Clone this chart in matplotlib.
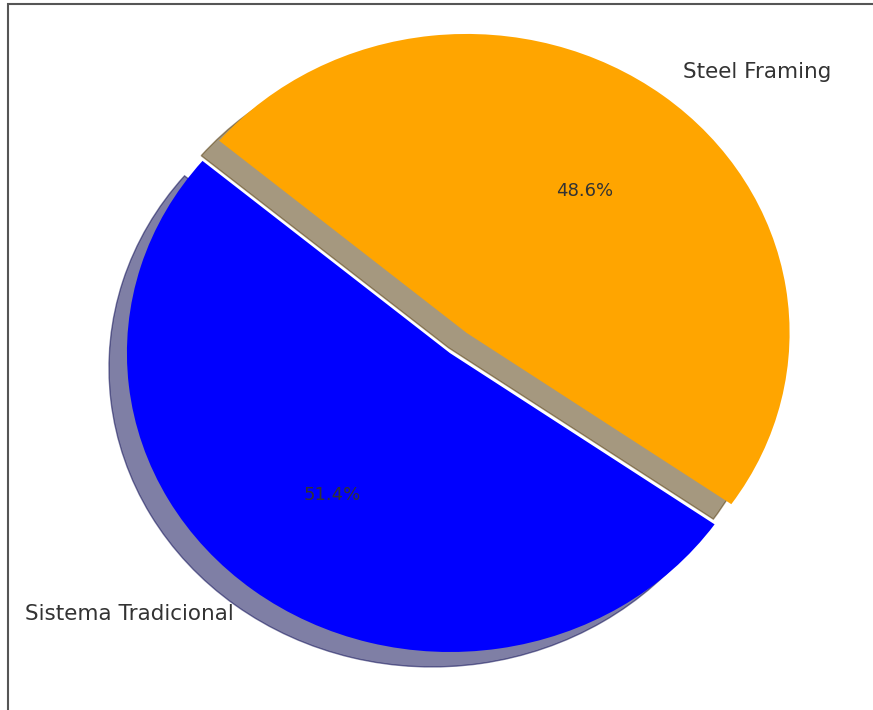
import matplotlib
matplotlib.use("Agg")
import matplotlib.pyplot as plt
from matplotlib.patches import Rectangle

# ---DATA---#
labels = ["Sistema Tradicional", "Steel Framing"]
shares = [51.4, 48.6]
colors = ["blue", "orange"]
explode = [0, 0.085]

# ---FIGURE---#
f = plt.figure(figsize=(8.73, 7.10), dpi=100)
panel = f.add_axes([0, 0, 1, 1])
panel.set_axis_off()

wedges, texts, autotexts = panel.pie(
    shares, labels=labels, colors=colors, explode=explode,
    autopct="%1.1f%%", startangle=140,
    shadow={"ox": -0.04, "oy": -0.036, "shade": 0.7},
    textprops={"color": "#333333"},
)
for t in texts:
    t.set_fontsize(15.5)
for t in autotexts:
    t.set_fontsize(13)

# stretched like the reference (not equal aspect)
panel.set_aspect("auto")
panel.set_xlim(-1.393, 1.310)
panel.set_ylim(-1.194, 1.181)

# ---FRAME (cropped border)---#
f.patches.append(Rectangle((8 / 873, -0.1), 1.2, 1.1 - 4 / 710,
                           transform=f.transFigure, fill=False,
                           edgecolor="#555555", linewidth=1.5))

f.savefig("out.png", dpi=100)
